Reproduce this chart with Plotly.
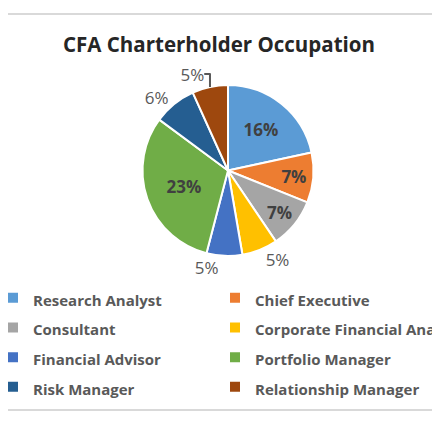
import plotly.graph_objects as go

occupations = ["Research Analyst", "Chief Executive", "Consultant", "Corporate Financial Analyst",
               "Financial Advisor", "Portfolio Manager", "Risk Manager", "Relationship Manager"]
shares = [16, 7, 7, 5, 5, 23, 6, 5]
label_pos = ["inside", "inside", "inside", "outside", "outside", "inside", "outside", "outside"]
colors = ["#5B9BD5", "#ED7D31", "#A5A5A5", "#FFC000", "#4472C4", "#70AD47", "#255E91", "#9E480E"]

# page body adds ~8px offset, so positions below are shifted up/left by 8
top, bottom = 77, 248
ph = bottom - top

fig = go.Figure(go.Pie(
    labels=['<span style="font-size:15px">%s</span>' % o for o in occupations],
    values=shares,
    text=["%d%%" % s for s in shares],
    textinfo="text",
    textposition=label_pos,
    sort=False,
    direction="clockwise",
    rotation=0,
    marker=dict(colors=colors, line=dict(color="white", width=2)),
    insidetextfont=dict(family="Open Sans", size=17, color="#404040", weight="bold"),
    outsidetextfont=dict(family="Open Sans", size=17, color="#595959"),
    domain=dict(x=[0, 1.0], y=[0, 1]),
    hoverinfo="skip",
))

fig.update_layout(
    width=440, height=440,
    margin=dict(l=0, r=0, t=top, b=440 - bottom, autoexpand=False),
    paper_bgcolor="white",
    font=dict(family="Open Sans", color="#595959"),
    title=dict(text="<b>CFA Charterholder Occupation</b>", x=211 / 440, xanchor="center",
               y=1 - 37 / 440, yanchor="middle", yref="container",
               font=dict(family="Open Sans", size=20.5, color="#262626")),
    showlegend=True,
    legend=dict(orientation="h", x=0, xanchor="left", y=-(270 - bottom) / ph, yanchor="top",
                indentation=-15,
                entrywidthmode="pixels", entrywidth=192,
                font=dict(family="Open Sans", size=20.5, color="#595959", weight="bold"),
                bgcolor="rgba(0,0,0,0)"),
    shapes=[
        dict(type="line", xref="paper", yref="paper", x0=-0.1, x1=1.1,
             y0=1 + (top - 6) / ph, y1=1 + (top - 6) / ph, line=dict(color="#D9D9D9", width=2)),
        dict(type="line", xref="paper", yref="paper", x0=-0.1, x1=1.1,
             y0=-(402 - bottom) / ph, y1=-(402 - bottom) / ph, line=dict(color="#D9D9D9", width=2)),
    ],
)

fig.write_html("out.html")
